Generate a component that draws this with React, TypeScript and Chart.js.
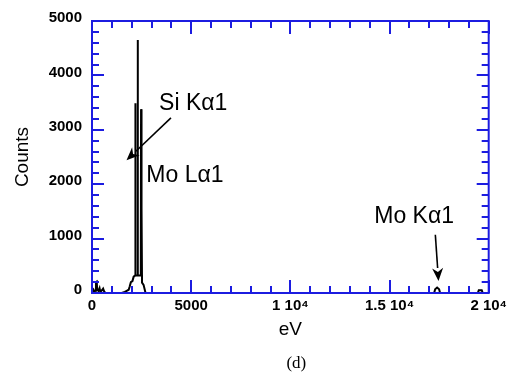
import React, { useEffect, useRef } from "react";
import { Chart, registerables } from "chart.js";

Chart.register(...registerables);

// ---- data ----
const energyEv = [
  0, 80, 120, 180, 200, 240, 260, 320, 380, 420, 500, 560, 620, 700,
  1500, 1650, 1750, 1850, 1900, 1960, 2040, 2100, 2170, 2180, 2189, 2200,
  2290, 2303, 2316, 2460, 2473, 2480, 2515, 2522, 2600, 2700,
  17000, 17250, 17300, 17400, 17500, 17550,
  19450, 19500, 19650, 19700, 20000,
];
const counts = [
  0, 60, 30, 40, 200, 210, 60, 40, 90, 20, 50, 80, 20, 0,
  0, 20, 40, 60, 120, 200, 220, 300, 320, 320, 3490, 320,
  320, 4650, 320, 320, 3380, 1560, 1560, 190, 150, 0,
  0, 0, 70, 100, 70, 0,
  0, 50, 50, 0, 0,
];

const xTickValues = [0, 5000, 10000, 15000, 20000];
const xTickLabels = ["0", "5000", "1 10⁴", "1.5 10⁴", "2 10⁴"];
const yTickValues = [0, 1000, 2000, 3000, 4000, 5000];
const yTickLabels = ["0", "1000", "2000", "3000", "4000", "5000"];

const xMin = 0, xMax = 20000, xMinorStep = 1000, xMajorStep = 5000;
const yMin = 0, yMax = 5000, yMinorStep = 200, yMajorStep = 1000;

// annotations in data coordinates (eV, counts)
const annotationLabels = ["Si Kα1", "Mo Lα1", "Mo Kα1"];
const annotationTextX = [3380, 2740, 14230];
const annotationTextY = [3360, 2040, 1290];
const arrowFromX = [3980, 17310];
const arrowFromY = [3220, 1070];
const arrowToX = [1740, 17470];
const arrowToY = [2440, 220];

const panelLabel = "(d)";
const xTitle = "eV";
const yTitle = "Counts";

const BLUE = "#1c1ce0";
const FONT = "Arial, 'Liberation Sans', Helvetica, sans-serif";

const framePlugin = {
  id: "frameTicks",
  afterDraw(chart: any) {
    const { ctx, chartArea: a, scales } = chart;
    const xs = scales.x, ys = scales.y;
    ctx.save();
    ctx.strokeStyle = BLUE;
    ctx.lineWidth = 2;
    ctx.beginPath();
    for (let v = xMin; v <= xMax; v += xMinorStep) {
      const px = Math.round(xs.getPixelForValue(v));
      const len = v % xMajorStep === 0 ? 13 : 7;
      ctx.moveTo(px, a.bottom);
      ctx.lineTo(px, a.bottom - len);
      ctx.moveTo(px, a.top);
      ctx.lineTo(px, a.top + len);
    }
    for (let v = yMin; v <= yMax; v += yMinorStep) {
      const py = Math.round(ys.getPixelForValue(v));
      const len = v % yMajorStep === 0 ? 12 : 7;
      ctx.moveTo(a.left, py);
      ctx.lineTo(a.left + len, py);
      ctx.moveTo(a.right, py);
      ctx.lineTo(a.right - len, py);
    }
    ctx.stroke();
    ctx.strokeRect(a.left, a.top, a.right - a.left, a.bottom - a.top);

    // annotations
    ctx.fillStyle = "#000";
    ctx.strokeStyle = "#000";
    ctx.font = `23px ${FONT}`;
    ctx.textBaseline = "alphabetic";
    ctx.textAlign = "left";
    annotationLabels.forEach((t, i) => {
      ctx.fillText(t, xs.getPixelForValue(annotationTextX[i]), ys.getPixelForValue(annotationTextY[i]));
    });
    ctx.lineWidth = 1.6;
    arrowFromX.forEach((fx, i) => {
      const x1 = xs.getPixelForValue(fx), y1 = ys.getPixelForValue(arrowFromY[i]);
      const x2 = xs.getPixelForValue(arrowToX[i]), y2 = ys.getPixelForValue(arrowToY[i]);
      const ang = Math.atan2(y2 - y1, x2 - x1);
      const hl = 13, hw = 5.5;
      const bx = x2 - hl * Math.cos(ang), by = y2 - hl * Math.sin(ang);
      ctx.beginPath();
      ctx.moveTo(x1, y1);
      ctx.lineTo(bx, by);
      ctx.stroke();
      ctx.beginPath();
      ctx.moveTo(x2, y2);
      ctx.lineTo(bx + hw * Math.sin(ang), by - hw * Math.cos(ang));
      ctx.lineTo(bx + 4 * Math.cos(ang), by + 4 * Math.sin(ang));
      ctx.lineTo(bx - hw * Math.sin(ang), by + hw * Math.cos(ang));
      ctx.closePath();
      ctx.fill();
    });

    // panel label
    ctx.font = `17px 'Liberation Serif', 'Times New Roman', serif`;
    ctx.textAlign = "center";
    ctx.textBaseline = "middle";
    ctx.fillText(panelLabel, (a.left + a.right) / 2 + 6, 364);
    ctx.restore();
  },
};

export default function App() {
  const ref = useRef<HTMLCanvasElement | null>(null);
  useEffect(() => {
    if (!ref.current) return;
    const chart = new Chart(ref.current, {
      type: "line",
      data: {
        datasets: [
          {
            data: energyEv.map((e, i) => ({ x: e, y: counts[i] })),
            borderColor: "#000",
            borderWidth: 2,
            pointRadius: 0,
            tension: 0,
            fill: false,
          },
        ],
      },
      options: {
        responsive: false,
        animation: false,
        devicePixelRatio: 1,
        layout: { padding: { left: 0, top: 21, right: 17, bottom: 0 } },
        plugins: { legend: { display: false }, tooltip: { enabled: false } },
        scales: {
          x: {
            type: "linear",
            min: xMin,
            max: xMax,
            afterFit: (s: any) => { s.height = 82; },
            afterBuildTicks: (s: any) => { s.ticks = xTickValues.map((v) => ({ value: v })); },
            grid: { display: false, drawTicks: false },
            border: { display: false },
            ticks: {
              padding: 4,
              maxRotation: 0,
              autoSkip: false,
              color: "#000",
              font: { family: FONT, size: 15, weight: "bold" },
              callback: (v: any) => {
                const i = xTickValues.indexOf(Number(v));
                return i >= 0 ? xTickLabels[i] : "";
              },
            },
            title: {
              display: true,
              text: xTitle,
              color: "#000",
              font: { family: FONT, size: 19 },
              padding: { top: 0, bottom: 34 },
            },
          },
          y: {
            type: "linear",
            min: yMin,
            max: yMax,
            afterFit: (s: any) => { s.width = 92; },
            afterBuildTicks: (s: any) => { s.ticks = yTickValues.map((v) => ({ value: v })); },
            grid: { display: false, drawTicks: false },
            border: { display: false },
            ticks: {
              padding: 10,
              labelOffset: -3,
              color: "#000",
              font: { family: FONT, size: 15, weight: "bold" },
              callback: (v: any) => {
                const i = yTickValues.indexOf(Number(v));
                return i >= 0 ? yTickLabels[i] : "";
              },
            },
            title: {
              display: true,
              text: yTitle,
              color: "#000",
              font: { family: FONT, size: 19 },
              padding: { top: 11, bottom: 0 },
            },
          },
        },
      },
      plugins: [framePlugin],
    } as any);
    return () => chart.destroy();
  }, []);
  return (
    <div style={{ position: "absolute", left: 0, top: 0, width: 511, height: 375, background: "#fff" }}>
      <canvas ref={ref} width={511} height={375} />
    </div>
  );
}
